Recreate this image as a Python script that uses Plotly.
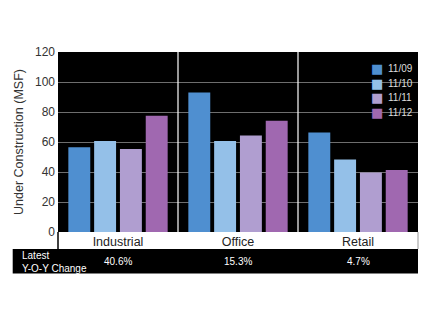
import plotly.graph_objects as go

categories = ["Industrial", "Office", "Retail"]
series_names = ["11/09", "11/10", "11/11", "11/12"]
values_1109 = [56.5, 93.0, 66.4]
values_1110 = [60.6, 60.6, 48.4]
values_1111 = [55.3, 64.4, 39.6]
values_1112 = [77.5, 74.2, 41.3]
yoy_change = ["40.6%", "15.3%", "4.7%"]
yoy_label = "Latest<br>Y-O-Y Change"

colors = ["#4f8fd0", "#94c0e8", "#b09ed0", "#a068b0"]
series_values = [values_1109, values_1110, values_1111, values_1112]

FONT = "Liberation Sans, Arial, Helvetica, sans-serif"

fig = go.Figure()
for name, vals, col in zip(series_names, series_values, colors):
    fig.add_trace(go.Bar(x=categories, y=vals, name=name, marker_color=col,
                         marker_line_width=0, showlegend=False))

W, H = 432, 328
L, R, T, B = 58, 14, 52, 96
pw, ph = W - L - R, H - T - B

def px_x(x):
    return (x - L) / pw

def px_y(y):
    return (H - B - y) / ph

shapes = []
# category separators
for i in range(len(categories) - 1):
    shapes.append(dict(type="line", xref="x", yref="paper", x0=i + 0.5, x1=i + 0.5,
                       y0=0, y1=1, line=dict(color="white", width=1.2), layer="above"))
# black band for y-o-y row
shapes.append(dict(type="rect", xref="paper", yref="paper", x0=px_x(12.7), x1=1,
                   y0=px_y(273.5), y1=px_y(249), fillcolor="black", line_width=0, layer="below"))
# edges of label band
shapes.append(dict(type="line", xref="paper", yref="paper", x0=0, x1=0,
                   y0=px_y(249), y1=0, line=dict(color="black", width=1.5)))
shapes.append(dict(type="line", xref="paper", yref="paper", x0=1, x1=1,
                   y0=px_y(249), y1=0, line=dict(color="#999", width=1)))

annotations = [dict(x=px_x(20), y=px_y(261.5), xref="paper", yref="paper", text=yoy_label,
                    showarrow=False, xanchor="left", yanchor="middle", align="left",
                    font=dict(family=FONT, size=10, color="white"))]
for c, v in zip(categories, yoy_change):
    annotations.append(dict(x=c, y=px_y(261.5), xref="x", yref="paper", text=v,
                            showarrow=False, xanchor="center", yanchor="middle",
                            font=dict(family=FONT, size=10, color="white")))

# legend (swatch + label), transparent over the plot
for i, (name, col) in enumerate(zip(series_names, colors)):
    yy = px_y(68.3 + i * 14.7)
    annotations.append(dict(x=px_x(376.5), y=yy, xref="paper", yref="paper", text="■",
                            showarrow=False, xanchor="center", yanchor="middle",
                            font=dict(family="DejaVu Sans", size=13, color=col)))
    annotations.append(dict(x=px_x(385.5), y=yy, xref="paper", yref="paper", text=name,
                            showarrow=False, xanchor="left", yanchor="middle",
                            font=dict(family=FONT, size=10, color="#ddd")))

fig.update_layout(
    width=W, height=H,
    margin=dict(l=L, r=R, t=T, b=B, pad=0),
    paper_bgcolor="white", plot_bgcolor="black",
    barmode="group", bargap=0.14, bargroupgap=0.15,
    font=dict(family=FONT, color="#222"),
    shapes=shapes, annotations=annotations,
    showlegend=False,
    xaxis=dict(showgrid=False, zeroline=False, showline=False, ticks="",
               tickfont=dict(family=FONT, size=12.5, color="#222")),
    yaxis=dict(range=[0, 120], dtick=20, showgrid=True, gridcolor="#6e6e6e", gridwidth=1,
               zeroline=False, showline=False, ticks="", ticklabelstandoff=2,
               tickfont=dict(family=FONT, size=12, color="#333"),
               title=dict(text="Under Construction (MSF)", standoff=8,
                          font=dict(family=FONT, size=12.5, color="#333"))),
)

fig.write_html("out.html")
